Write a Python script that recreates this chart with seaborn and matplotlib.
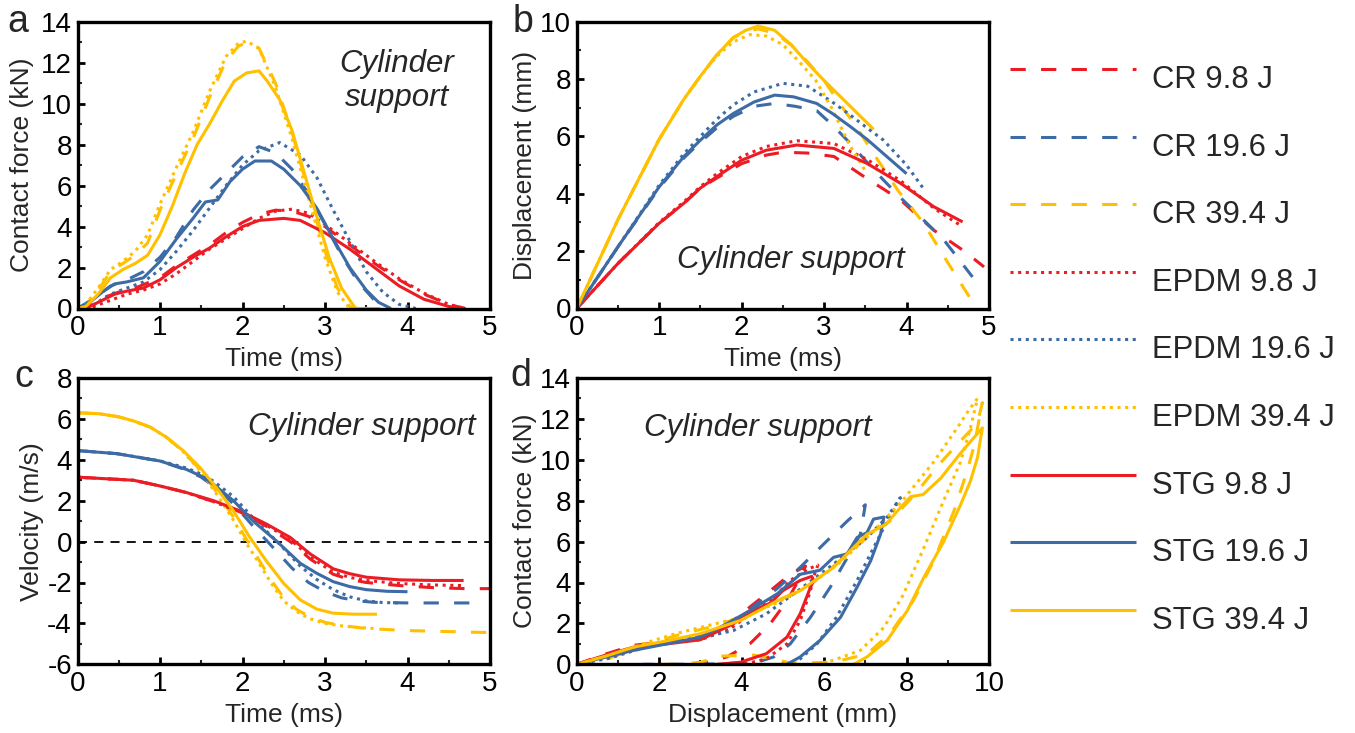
import numpy as np
import pandas as pd
import matplotlib
matplotlib.use("Agg")
import matplotlib.pyplot as plt
from matplotlib.lines import Line2D
from matplotlib.ticker import MultipleLocator
import seaborn as sns

# ---------------- data ----------------
series_names = ["CR 9.8 J", "CR 19.6 J", "CR 39.4 J",
                "EPDM 9.8 J", "EPDM 19.6 J", "EPDM 39.4 J",
                "STG 9.8 J", "STG 19.6 J", "STG 39.4 J"]

# Panel a: contact force (kN) vs time (ms)
a_t_cr98 = [0, 0.15, 0.3, 0.5, 0.7, 1.0, 1.2, 1.4, 1.6, 1.8, 2.0, 2.2, 2.4, 2.6, 2.8, 3.0, 3.3, 3.6, 3.9, 4.2, 4.5, 4.7]
a_f_cr98 = [0, 0.15, 0.5, 0.8, 1.0, 1.5, 2.1, 2.6, 3.1, 3.7, 4.2, 4.6, 4.8, 4.75, 4.5, 4.0, 3.1, 2.2, 1.4, 0.7, 0.2, 0]
a_t_cr196 = [0, 0.2, 0.4, 0.6, 0.8, 1.0, 1.2, 1.4, 1.6, 1.8, 2.0, 2.2, 2.4, 2.6, 2.8, 3.0, 3.2, 3.4, 3.6, 3.75]
a_f_cr196 = [0, 0.5, 1.1, 1.4, 1.8, 2.5, 3.5, 4.8, 5.8, 6.6, 7.4, 7.9, 7.6, 6.8, 5.6, 4.1, 2.6, 1.3, 0.4, 0]
a_t_cr394 = [0, 0.1, 0.25, 0.4, 0.55, 0.7, 0.85, 1.0, 1.2, 1.4, 1.6, 1.8, 1.95, 2.05, 2.2, 2.4, 2.6, 2.8, 3.0, 3.15, 3.3, 3.4]
a_f_cr394 = [0, 0.1, 0.9, 1.8, 2.2, 2.6, 3.2, 4.8, 6.6, 8.3, 10.3, 12.1, 12.8, 13.0, 12.7, 11.0, 8.6, 5.7, 2.8, 1.0, 0.1, 0]
a_t_ep98 = [0, 0.2, 0.4, 0.6, 0.8, 1.0, 1.2, 1.4, 1.6, 1.8, 2.0, 2.2, 2.4, 2.6, 2.8, 3.0, 3.3, 3.6, 3.9, 4.2, 4.5, 4.7]
a_f_ep98 = [0, 0.1, 0.4, 0.7, 0.9, 1.2, 1.7, 2.3, 2.9, 3.4, 3.9, 4.4, 4.75, 4.85, 4.65, 4.1, 3.2, 2.3, 1.45, 0.75, 0.2, 0]
a_t_ep196 = [0, 0.2, 0.4, 0.6, 0.8, 1.0, 1.2, 1.4, 1.6, 1.8, 2.0, 2.2, 2.45, 2.7, 2.9, 3.1, 3.3, 3.5, 3.7, 3.9, 4.1]
a_f_ep196 = [0, 0.2, 0.7, 1.0, 1.3, 1.9, 2.8, 3.8, 4.9, 6.0, 7.0, 7.7, 8.1, 7.5, 6.4, 4.8, 3.3, 1.8, 0.8, 0.2, 0]
a_t_ep394 = [0, 0.1, 0.25, 0.4, 0.55, 0.7, 0.85, 1.0, 1.2, 1.4, 1.6, 1.8, 1.95, 2.05, 2.2, 2.4, 2.6, 2.8, 3.0, 3.15, 3.3, 3.6]
a_f_ep394 = [0, 0.2, 1.0, 1.9, 2.3, 2.8, 3.6, 5.1, 6.9, 8.6, 10.6, 12.3, 12.95, 13.05, 12.7, 10.8, 8.3, 5.4, 2.5, 0.8, 0, 0]
a_t_st98 = [0, 0.15, 0.3, 0.45, 0.6, 0.8, 1.0, 1.2, 1.4, 1.6, 1.8, 2.0, 2.2, 2.5, 2.7, 3.0, 3.3, 3.6, 3.9, 4.2, 4.5, 4.7]
a_f_st98 = [0, 0.1, 0.4, 0.7, 0.85, 1.0, 1.4, 2.0, 2.5, 2.95, 3.5, 4.0, 4.3, 4.4, 4.3, 3.7, 2.9, 2.0, 1.1, 0.45, 0.1, 0]
a_t_st196 = [0, 0.15, 0.3, 0.45, 0.6, 0.8, 1.0, 1.2, 1.4, 1.55, 1.7, 1.85, 2.0, 2.15, 2.35, 2.5, 2.7, 2.9, 3.1, 3.3, 3.5, 3.65, 3.8]
a_f_st196 = [0, 0.3, 0.8, 1.2, 1.3, 1.5, 2.3, 3.4, 4.4, 5.2, 5.3, 6.2, 6.8, 7.2, 7.2, 6.8, 6.0, 4.9, 3.4, 2.0, 0.9, 0.3, 0]
a_t_st394 = [0, 0.1, 0.25, 0.4, 0.55, 0.7, 0.85, 1.0, 1.15, 1.3, 1.45, 1.6, 1.75, 1.9, 2.05, 2.2, 2.3, 2.45, 2.6, 2.75, 2.9, 3.05, 3.2, 3.37, 3.67]
a_f_st394 = [0, 0.1, 0.7, 1.5, 1.9, 2.2, 2.6, 3.6, 5.0, 6.6, 8.0, 9.0, 10.1, 11.1, 11.5, 11.6, 11.1, 10.2, 8.7, 6.6, 4.5, 2.5, 1.0, 0, 0]

# Panel b: displacement (mm) vs time (ms)
b_t_cr98 = [0, 0.5, 1.0, 1.3, 1.5, 1.7, 2.0, 2.3, 2.5, 2.8, 3.12, 3.52, 3.93, 4.33, 4.7, 4.94]
b_d_cr98 = [0, 1.57, 2.97, 3.67, 4.2, 4.55, 5.05, 5.35, 5.45, 5.42, 5.3, 4.53, 3.78, 2.73, 2.0, 1.45]
b_t_cr196 = [0, 0.5, 1.0, 1.3, 1.5, 1.7, 1.9, 2.15, 2.4, 2.65, 2.91, 3.1, 3.32, 3.52, 3.72, 3.95, 4.13, 4.45, 4.8]
b_d_cr196 = [0, 2.15, 4.2, 5.25, 5.8, 6.3, 6.7, 7.05, 7.15, 7.05, 6.9, 6.4, 5.75, 5.1, 4.48, 3.8, 3.3, 2.4, 1.1]
b_t_cr394 = [0, 0.5, 1.0, 1.3, 1.5, 1.7, 1.9, 2.05, 2.2, 2.4, 2.6, 2.8, 3.0, 3.2, 3.4, 3.6, 3.9, 4.2, 4.5, 4.85]
b_d_cr394 = [0, 3.1, 5.9, 7.3, 8.1, 8.85, 9.45, 9.65, 9.75, 9.6, 9.2, 8.6, 7.95, 7.1, 6.3, 5.4, 4.1, 3.0, 1.6, 0]
b_t_ep98 = [0, 0.5, 1.0, 1.3, 1.5, 1.7, 2.0, 2.3, 2.67, 3.12, 3.52, 3.93, 4.33, 4.68]
b_d_ep98 = [0, 1.57, 3.0, 3.72, 4.25, 4.7, 5.3, 5.65, 5.85, 5.75, 5.2, 4.45, 3.5, 2.85]
b_t_ep196 = [0, 0.5, 1.0, 1.3, 1.5, 1.7, 1.9, 2.15, 2.5, 2.8, 3.1, 3.32, 3.52, 3.72, 4.0, 4.2]
b_d_ep196 = [0, 2.15, 4.3, 5.4, 6.0, 6.6, 7.1, 7.55, 7.85, 7.75, 7.2, 6.74, 6.3, 5.87, 5.0, 4.2]
b_t_ep394 = [0, 0.5, 1.0, 1.3, 1.5, 1.7, 1.9, 2.1, 2.3, 2.5, 2.7, 2.9, 3.1, 3.3, 3.5]
b_d_ep394 = [0, 3.1, 5.9, 7.3, 8.1, 8.8, 9.3, 9.55, 9.5, 9.2, 8.6, 7.95, 6.95, 5.75, 4.8]
b_t_st98 = [0, 0.5, 1.0, 1.3, 1.5, 1.7, 2.0, 2.3, 2.67, 3.12, 3.52, 3.93, 4.33, 4.68]
b_d_st98 = [0, 1.57, 2.97, 3.67, 4.2, 4.6, 5.17, 5.52, 5.7, 5.58, 5.06, 4.36, 3.55, 3.02]
b_t_st196 = [0, 0.5, 1.0, 1.3, 1.5, 1.7, 1.9, 2.15, 2.4, 2.63, 2.91, 3.1, 3.32, 3.52, 3.72, 4.0]
b_d_st196 = [0, 2.15, 4.24, 5.3, 5.87, 6.4, 6.8, 7.2, 7.44, 7.38, 7.15, 6.8, 6.34, 5.9, 5.4, 4.7]
b_t_st394 = [0, 0.5, 1.0, 1.3, 1.5, 1.7, 1.9, 2.05, 2.2, 2.4, 2.6, 2.8, 3.0, 3.3, 3.6]
b_d_st394 = [0, 3.1, 5.9, 7.3, 8.1, 8.85, 9.45, 9.7, 9.85, 9.7, 9.2, 8.55, 7.95, 7.1, 6.25]

# Panel c: velocity (m/s) vs time (ms)
c_t_cr98 = [0, 0.68, 1.0, 1.32, 1.65, 1.97, 2.29, 2.58, 2.82, 3.1, 3.3, 3.5, 3.9, 4.3, 4.7, 5.0]
c_v_cr98 = [3.15, 3.0, 2.72, 2.4, 1.95, 1.45, 0.75, 0.0, -0.85, -1.6, -1.85, -2.0, -2.15, -2.25, -2.3, -2.3]
c_t_cr196 = [0, 0.48, 1.0, 1.32, 1.5, 1.65, 1.89, 2.13, 2.35, 2.6, 2.8, 3.0, 3.2, 3.4, 3.6, 4.0, 4.4, 4.75]
c_v_cr196 = [4.45, 4.3, 3.94, 3.5, 3.15, 2.7, 1.85, 0.75, -0.2, -1.3, -2.0, -2.45, -2.75, -2.9, -2.97, -3.0, -3.0, -3.0]
c_t_cr394 = [0, 0.27, 0.5, 0.68, 0.88, 1.08, 1.28, 1.49, 1.69, 1.89, 2.05, 2.2, 2.35, 2.5, 2.65, 2.8, 3.0, 3.2, 3.5, 4.0, 4.5, 5.0]
c_v_cr394 = [6.3, 6.25, 6.1, 5.9, 5.6, 5.1, 4.4, 3.5, 2.4, 1.2, 0.1, -0.9, -1.9, -2.75, -3.3, -3.65, -3.95, -4.1, -4.25, -4.35, -4.4, -4.45]
c_t_ep98 = [0, 0.68, 1.0, 1.32, 1.65, 1.97, 2.29, 2.58, 2.82, 3.1, 3.3, 3.5, 3.9, 4.3, 4.68]
c_v_ep98 = [3.15, 3.0, 2.72, 2.4, 1.95, 1.45, 0.8, 0.1, -0.75, -1.5, -1.75, -1.9, -2.05, -2.12, -2.15]
c_t_ep196 = [0, 0.48, 1.0, 1.32, 1.5, 1.65, 1.89, 2.13, 2.42, 2.7, 2.9, 3.1, 3.3, 3.5, 3.7, 3.9]
c_v_ep196 = [4.45, 4.3, 3.95, 3.6, 3.3, 2.95, 2.2, 1.15, 0.0, -1.2, -1.85, -2.35, -2.7, -2.9, -2.98, -3.0]
c_t_ep394 = [0, 0.27, 0.5, 0.68, 0.88, 1.08, 1.28, 1.49, 1.69, 1.89, 2.05, 2.2, 2.35, 2.5, 2.65, 2.8, 3.0, 3.2, 3.4, 3.6]
c_v_ep394 = [6.3, 6.25, 6.1, 5.9, 5.6, 5.1, 4.4, 3.45, 2.3, 1.05, -0.1, -1.05, -2.05, -2.9, -3.4, -3.75, -4.0, -4.12, -4.2, -4.25]
c_t_st98 = [0, 0.68, 1.0, 1.32, 1.65, 1.97, 2.29, 2.58, 2.82, 3.1, 3.3, 3.5, 3.9, 4.3, 4.68]
c_v_st98 = [3.15, 3.0, 2.72, 2.4, 2.0, 1.5, 0.86, 0.2, -0.6, -1.33, -1.57, -1.74, -1.87, -1.9, -1.9]
c_t_st196 = [0, 0.48, 1.0, 1.32, 1.5, 1.65, 1.89, 2.13, 2.42, 2.7, 2.9, 3.1, 3.3, 3.5, 3.75, 4.0]
c_v_st196 = [4.45, 4.3, 3.94, 3.53, 3.2, 2.8, 2.0, 1.0, 0.0, -1.06, -1.55, -1.96, -2.2, -2.35, -2.43, -2.45]
c_t_st394 = [0, 0.27, 0.5, 0.68, 0.88, 1.08, 1.28, 1.49, 1.69, 1.89, 2.09, 2.29, 2.5, 2.7, 2.9, 3.1, 3.35, 3.63]
c_v_st394 = [6.3, 6.25, 6.1, 5.9, 5.6, 5.1, 4.45, 3.6, 2.6, 1.5, 0.2, -0.95, -2.05, -2.85, -3.3, -3.5, -3.55, -3.55]

# Panel d: contact force (kN) vs displacement (mm)
d_x_cr98 = [0, 0.7, 1.38, 2.2, 3.0, 3.8, 4.2, 4.6, 5.18, 5.55, 5.42, 5.1, 4.7, 4.2, 3.64, 3.16, 2.7]
d_f_cr98 = [0, 0.5, 0.93, 1.1, 1.33, 2.1, 2.8, 3.44, 4.4, 4.8, 4.25, 3.1, 2.0, 1.0, 0.36, 0.1, 0]
d_x_cr196 = [0, 0.8, 1.6, 2.4, 3.0, 3.6, 4.2, 4.86, 5.42, 5.9, 6.56, 7.0, 6.88, 6.56, 6.15, 5.67, 5.18, 4.78, 4.37, 3.5, 2.6, 1.6]
d_f_cr196 = [0, 0.4, 0.9, 1.2, 1.4, 1.9, 2.7, 3.7, 4.74, 5.7, 7.0, 7.8, 6.36, 5.2, 3.77, 2.3, 1.0, 0.36, 0.1, 0.02, 0, 0]
d_x_cr394 = [0, 0.8, 1.6, 2.4, 3.2, 4.0, 4.86, 5.6, 6.23, 7.04, 7.6, 8.2, 8.8, 9.3, 9.72, 9.84, 9.64, 9.47, 9.15, 8.66, 8.16, 7.6, 7.04, 6.23, 5.2, 4.7, 4.3, 3.5, 3.0, 2.5, 1.7]
d_f_cr394 = [0, 0.3, 0.9, 1.4, 1.8, 2.3, 3.1, 3.8, 4.8, 6.2, 7.0, 8.3, 9.8, 10.9, 11.8, 12.8, 10.7, 9.45, 7.5, 5.06, 3.1, 1.5, 0.5, 0.1, 0.05, 0.3, 0.45, 0.4, 0.1, 0, 0]
d_x_ep98 = [0, 0.8, 1.6, 2.3, 3.0, 3.7, 4.3, 4.8, 5.18, 5.6, 5.85, 5.75, 5.67, 5.42, 5.1, 4.6, 4.05]
d_f_ep98 = [0, 0.35, 0.8, 1.1, 1.2, 1.7, 2.6, 3.3, 4.1, 4.65, 4.85, 4.3, 3.6, 2.14, 1.0, 0.27, 0]
d_x_ep196 = [0, 0.8, 1.6, 2.3, 3.0, 3.8, 4.6, 5.26, 6.23, 7.04, 7.53, 7.85, 7.53, 7.2, 6.8, 6.3, 5.83, 5.33]
d_f_ep196 = [0, 0.3, 0.8, 1.2, 1.3, 1.65, 2.47, 3.44, 4.9, 6.2, 7.2, 8.15, 7.0, 5.7, 4.1, 2.3, 1.0, 0.1]
d_x_ep394 = [0, 0.8, 1.6, 2.4, 3.2, 4.0, 4.86, 5.6, 6.4, 7.2, 7.9, 8.66, 9.23, 9.5, 9.72, 9.55, 9.31, 8.9, 8.42, 7.92, 7.45, 6.88, 6.23, 5.83]
d_f_ep394 = [0, 0.4, 1.0, 1.5, 1.9, 2.3, 3.0, 3.8, 5.0, 6.5, 8.0, 9.9, 11.56, 12.4, 13.0, 11.56, 9.9, 8.0, 5.7, 3.4, 1.8, 0.68, 0.2, 0]
d_x_st98 = [0, 0.7, 1.38, 2.2, 3.0, 3.8, 4.29, 4.7, 5.0, 5.42, 5.7, 5.75, 5.67, 5.42, 5.1, 4.6, 3.97, 3.4]
d_f_st98 = [0, 0.45, 0.84, 1.0, 1.2, 1.98, 2.63, 3.0, 3.6, 4.1, 4.3, 4.1, 3.77, 2.47, 1.33, 0.52, 0.1, 0]
d_x_st196 = [0, 0.7, 1.38, 2.19, 3.0, 3.64, 4.2, 4.86, 5.42, 5.9, 6.23, 6.56, 6.8, 7.04, 7.2, 7.45, 7.37, 7.13, 6.8, 6.4, 5.9, 5.42, 5.1]
d_f_st196 = [0, 0.35, 0.68, 1.0, 1.33, 1.98, 2.63, 3.44, 4.4, 4.6, 5.23, 5.4, 6.2, 6.44, 7.1, 7.2, 6.36, 5.06, 3.77, 2.3, 1.17, 0.36, 0]
d_x_st394 = [0, 0.7, 1.38, 2.2, 3.0, 3.97, 4.86, 5.42, 6.23, 7.04, 7.5, 7.85, 8.1, 8.4, 8.83, 9.3, 9.64, 9.84, 9.72, 9.55, 9.31, 8.9, 8.42, 8.02, 7.53, 7.04, 6.72]
d_f_st394 = [0, 0.4, 0.84, 1.15, 1.5, 2.14, 3.1, 3.6, 4.74, 6.36, 6.85, 7.66, 8.2, 8.3, 9.1, 10.3, 11.1, 11.56, 10.1, 8.96, 7.8, 6.0, 4.25, 2.63, 1.17, 0.36, 0]

panel_a = [(a_t_cr98, a_f_cr98), (a_t_cr196, a_f_cr196), (a_t_cr394, a_f_cr394),
           (a_t_ep98, a_f_ep98), (a_t_ep196, a_f_ep196), (a_t_ep394, a_f_ep394),
           (a_t_st98, a_f_st98), (a_t_st196, a_f_st196), (a_t_st394, a_f_st394)]
panel_b = [(b_t_cr98, b_d_cr98), (b_t_cr196, b_d_cr196), (b_t_cr394, b_d_cr394),
           (b_t_ep98, b_d_ep98), (b_t_ep196, b_d_ep196), (b_t_ep394, b_d_ep394),
           (b_t_st98, b_d_st98), (b_t_st196, b_d_st196), (b_t_st394, b_d_st394)]
panel_c = [(c_t_cr98, c_v_cr98), (c_t_cr196, c_v_cr196), (c_t_cr394, c_v_cr394),
           (c_t_ep98, c_v_ep98), (c_t_ep196, c_v_ep196), (c_t_ep394, c_v_ep394),
           (c_t_st98, c_v_st98), (c_t_st196, c_v_st196), (c_t_st394, c_v_st394)]
panel_d = [(d_x_cr98, d_f_cr98), (d_x_cr196, d_f_cr196), (d_x_cr394, d_f_cr394),
           (d_x_ep98, d_f_ep98), (d_x_ep196, d_f_ep196), (d_x_ep394, d_f_ep394),
           (d_x_st98, d_f_st98), (d_x_st196, d_f_st196), (d_x_st394, d_f_st394)]

# ---------------- style ----------------
RED, BLUE, YEL = "#EC1C24", "#3D6BA6", "#FFC000"
palette = {}
dashes = {}
for name in series_names:
    palette[name] = RED if " 9.8" in name else (BLUE if "19.6" in name else YEL)
    if name.startswith("CR"):
        dashes[name] = (5, 5)
    elif name.startswith("EPDM"):
        dashes[name] = (1, 1.5)
    else:
        dashes[name] = ""

sns.set_style("white")
plt.rcParams["font.family"] = ["Liberation Sans", "DejaVu Sans"]
plt.rcParams["axes.unicode_minus"] = False
plt.rcParams["lines.solid_capstyle"] = "butt"

LW = 2.2
W, H = 1355, 733
fig = plt.figure(figsize=(W / 100, H / 100), dpi=100)


def make_df(pairs):
    frames = []
    for name, (xs, ys) in zip(series_names, pairs):
        frames.append(pd.DataFrame({"series": name, "x": xs, "y": ys}))
    return pd.concat(frames, ignore_index=True)


def add_axes(px_left, px_top, px_right, px_bottom):
    return fig.add_axes([px_left / W, 1 - px_bottom / H, (px_right - px_left) / W, (px_bottom - px_top) / H])


ax_a = add_axes(77.5, 21.7, 490, 308.5)
ax_b = add_axes(576.7, 21.7, 989, 308.5)
ax_c = add_axes(77.5, 378, 490, 664.3)
ax_d = add_axes(576.7, 378, 989, 664.3)

for ax, pairs in [(ax_a, panel_a), (ax_b, panel_b), (ax_c, panel_c), (ax_d, panel_d)]:
    df = make_df(pairs)
    sns.lineplot(data=df, x="x", y="y", hue="series", style="series",
                 palette=palette, dashes=dashes, sort=False, estimator=None,
                 linewidth=LW, legend=False, ax=ax)

ax_c.axhline(0, color="black", lw=1.3, dashes=(5, 4), zorder=0)

TICK_FS = 20
LABEL_FS = 19
limits = {
    ax_a: ((0, 5), (0, 14), 1, 2, "Time (ms)", "Contact force (kN)"),
    ax_b: ((0, 5), (0, 10), 1, 2, "Time (ms)", "Displacement (mm)"),
    ax_c: ((0, 5), (-6, 8), 1, 2, "Time (ms)", "Velocity (m/s)"),
    ax_d: ((0, 10), (0, 14), 2, 2, "Displacement (mm)", "Contact force (kN)"),
}
for ax, (xl, yl, xs, ys, xlab, ylab) in limits.items():
    ax.set_xlim(*xl)
    ax.set_ylim(*yl)
    ax.xaxis.set_major_locator(MultipleLocator(xs))
    ax.xaxis.set_minor_locator(MultipleLocator(xs / 2))
    ax.yaxis.set_major_locator(MultipleLocator(ys))
    ax.yaxis.set_minor_locator(MultipleLocator(ys / 2))
    ax.tick_params(which="major", direction="in", length=5, width=2, labelsize=TICK_FS,
                   top=False, right=False, bottom=True, left=True, colors="black")
    ax.tick_params(axis="x", which="major", pad=5)
    ax.tick_params(axis="y", which="major", pad=4)
    ax.tick_params(which="minor", direction="in", length=3, width=1.5,
                   top=False, right=False, bottom=True, left=True)
    for sp in ax.spines.values():
        sp.set_linewidth(2.4)
        sp.set_color("black")
    ax.set_xlabel(xlab, fontsize=LABEL_FS, labelpad=4)
    ax.set_ylabel(ylab, fontsize=LABEL_FS, labelpad=2)
ax_a.yaxis.labelpad = 5

ANN_FS = 22.5
ax_a.text(3.87, 11.1, "Cylinder\nsupport", style="italic", fontsize=ANN_FS,
          ha="center", va="center", linespacing=1.2)
ax_b.text(2.59, 1.68, "Cylinder support", style="italic", fontsize=ANN_FS, ha="center", va="center")
ax_c.text(3.45, 5.62, "Cylinder support", style="italic", fontsize=ANN_FS, ha="center", va="center")
ax_d.text(4.4, 11.55, "Cylinder support", style="italic", fontsize=ANN_FS, ha="center", va="center")

LET_FS = 27
for letter, (px, py) in {"a": (18, 22), "b": (523, 22), "c": (24, 377), "d": (521, 376)}.items():
    fig.text(px / W, 1 - py / H, letter, fontsize=LET_FS, ha="center", va="center")

# legend (drawn in figure coordinates: handle line sits near the top of its label)
LEG_X0, LEG_X1, LEG_TX = 1010, 1136, 1152
LEG_Y0, LEG_PITCH, LEG_BASE = 69, 67.6, 19
for i, n in enumerate(series_names):
    yl = 1 - (LEG_Y0 + i * LEG_PITCH) / H
    h = Line2D([LEG_X0 / W, LEG_X1 / W], [yl, yl], transform=fig.transFigure,
               color=palette[n], lw=LW)
    if dashes[n] != "":
        h.set_dashes(dashes[n])
    fig.add_artist(h)
    fig.text(LEG_TX / W, 1 - (LEG_Y0 + LEG_BASE + i * LEG_PITCH) / H, n,
             fontsize=22.3, ha="left", va="baseline")

fig.savefig("out.png", dpi=100)
